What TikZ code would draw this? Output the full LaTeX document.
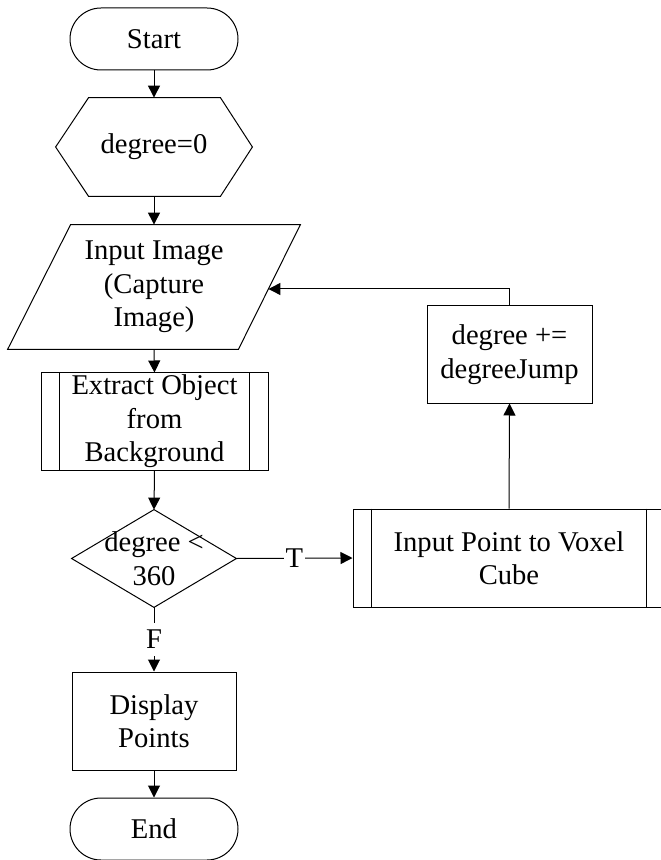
\documentclass[tikz,border=0pt]{standalone}
\usepackage{fontspec}
\setmainfont{Liberation Serif}
\usetikzlibrary{arrows.meta,shapes.misc,calc}
\begin{document}
\begin{tikzpicture}[x=0.5pt,y=-0.5pt,
  every node/.style={font=\fontsize{14.3}{16.75}\selectfont, align=center, inner sep=0pt},
  line/.style={draw=black, line width=0.5pt},
  arr/.style={line, -{Triangle[length=6pt,width=6pt]}},
  term/.style={rounded rectangle, draw, line width=0.5pt, minimum width=84pt, minimum height=31pt},
  proc/.style={rectangle, draw, line width=0.5pt},
  ghost/.style={rectangle},
  lbl/.style={fill=white, inner xsep=1pt, inner ysep=3.5pt}
]
\useasboundingbox (0,0) rectangle (660,860);

% nodes
\node[term] (start) at (154,39) {Start};
\node[ghost, minimum width=98pt, minimum height=49pt] (init) at (154,147) {degree=0};
\node[ghost, minimum width=146pt, minimum height=62pt] (inp) at (154,287) {Input Image\\(Capture\\Image)};
\node[proc, minimum width=113.5pt, minimum height=48.5pt] (extract) at (154.5,421.5) {Extract Object\\from\\Background};
\node[ghost, minimum width=82pt, minimum height=48.5pt] (cond) at (154,558.5) {degree <\\360};
\node[proc, minimum width=82pt, minimum height=49pt] (disp) at (154,721) {Display\\Points};
\node[term] (end) at (154,829) {End};
\node[proc, minimum width=156pt, minimum height=49pt] (voxel) at (509,558) {Input Point to Voxel\\Cube};
\node[proc, minimum width=82.5pt, minimum height=48.5pt] (deg) at (509.5,354.5) {degree +=\\degreeJump};

% hexagon
\draw[line] (init.west) -- ([xshift=16.5pt]init.north west) -- ([xshift=-16pt]init.north east)
  -- (init.east) -- ([xshift=-16pt]init.south east) -- ([xshift=16.5pt]init.south west) -- cycle;
% parallelogram
\coordinate (pTR) at (inp.north east);
\coordinate (pBR) at ([xshift=-31pt]inp.south east);
\draw[line] (inp.south west) -- ([xshift=31.5pt]inp.north west) -- (pTR) -- (pBR) -- cycle;
\coordinate (tgt) at ($(pTR)!0.516!(pBR)$);
% diamond
\draw[line] (cond.north) -- (cond.east) -- (cond.south) -- (cond.west) -- cycle;
% predefined process inner lines
\draw[line] ([xshift=9.5pt]extract.north west) -- ([xshift=9.5pt]extract.south west);
\draw[line] ([xshift=-9.5pt]extract.north east) -- ([xshift=-9.5pt]extract.south east);
\draw[line] ([xshift=9.5pt]voxel.north west) -- ([xshift=9.5pt]voxel.south west);
\draw[line] ([xshift=-9.5pt]voxel.north east) -- ([xshift=-9.5pt]voxel.south east);

% connectors
\draw[arr] (start.south) -- (init.north);
\draw[arr] (init.south) -- (inp.north);
\draw[arr] (inp.south) -- (extract.north);
\draw[arr] (extract.south) -- (cond.north);
\draw[arr] (cond.south) -- node[lbl] {F} (disp.north);
\draw[arr] (disp.south) -- (end.north);
\draw[arr] (cond.east) -- node[lbl] {T} (voxel.west);
\draw[arr] (voxel.north) -- (deg.south);
\draw[arr] (deg.north) |- (tgt);
\end{tikzpicture}
\end{document}
